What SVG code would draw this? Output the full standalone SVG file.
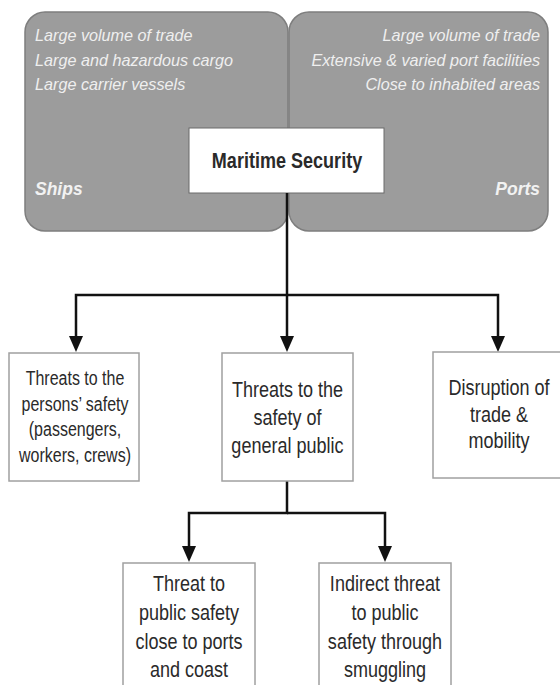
<svg xmlns="http://www.w3.org/2000/svg" width="560" height="685" viewBox="0 0 560 685">
  <style>
    .panel { fill: #9c9c9c; stroke: #7e7e7e; stroke-width: 1.5; }
    .it { font-family: "Liberation Sans", Arial, sans-serif; font-style: italic; font-size: 16.2px; fill: #efefef; }
    .lbl { font-family: "Liberation Sans", Arial, sans-serif; font-style: italic; font-weight: bold; font-size: 17.5px; fill: #f2f2f2; }
    .box { fill: #ffffff; stroke: #a0a0a0; stroke-width: 1.5; }
    .main { fill: #ffffff; stroke: #6a6a6a; stroke-width: 1; }
    .t { font-family: "Liberation Sans", Arial, sans-serif; fill: #2a2a2a; text-anchor: middle; }
    .conn { fill: none; stroke: #111111; stroke-width: 2.5; stroke-linejoin: miter; }
  </style>
  <defs>
    <marker id="arr" markerUnits="userSpaceOnUse" markerWidth="16" markerHeight="14" viewBox="0 0 16 14" refX="10" refY="7" orient="auto">
      <path d="M0,0 L16,7 L0,14 Z" fill="#111111"/>
    </marker>
  </defs>
  <rect width="560" height="685" fill="#ffffff"/>

  <g id="ships">
    <rect class="panel" x="25" y="12" width="263" height="219" rx="20" ry="20"/>
    <text class="it" x="35" y="41">Large volume of trade</text>
    <text class="it" x="35" y="65.5">Large and hazardous cargo</text>
    <text class="it" x="35" y="90">Large carrier vessels</text>
    <text class="lbl" x="35" y="195">Ships</text>
  </g>

  <g id="ports">
    <rect class="panel" x="289" y="12" width="259" height="219" rx="20" ry="20"/>
    <text class="it" x="540" y="41" text-anchor="end">Large volume of trade</text>
    <text class="it" x="540" y="65.5" text-anchor="end">Extensive &amp; varied port facilities</text>
    <text class="it" x="540" y="90" text-anchor="end">Close to inhabited areas</text>
    <text class="lbl" x="540" y="195" text-anchor="end">Ports</text>
  </g>

  <g id="maritime-security">
    <rect class="main" x="189" y="128" width="195" height="65"/>
    <g transform="translate(287,0) scale(0.82,1)">
      <text class="t" x="0" y="168" font-size="22" font-weight="bold" fill="#111">Maritime Security</text>
    </g>
  </g>

  <g id="connectors">
    <path class="conn" d="M287,193 V346" marker-end="url(#arr)"/>
    <path class="conn" d="M287,295 H76 V346" marker-end="url(#arr)"/>
    <path class="conn" d="M287,295 H498 V346" marker-end="url(#arr)"/>
    <path class="conn" d="M287,481 V513 H189 V556" marker-end="url(#arr)"/>
    <path class="conn" d="M287,513 H385 V556" marker-end="url(#arr)"/>
  </g>

  <g id="persons-safety">
    <rect class="box" x="9" y="353" width="130" height="128"/>
    <g transform="translate(75,0) scale(0.82,1)" class="t" font-size="19.5">
      <text x="0" y="385">Threats to the</text>
      <text x="0" y="411">persons’ safety</text>
      <text x="0" y="436.5">(passengers,</text>
      <text x="0" y="462">workers, crews)</text>
    </g>
  </g>

  <g id="general-public">
    <rect class="box" x="222" y="353" width="131" height="128"/>
    <g transform="translate(287.5,0) scale(0.82,1)" class="t" font-size="22">
      <text x="0" y="397">Threats to the</text>
      <text x="0" y="425">safety of</text>
      <text x="0" y="453">general public</text>
    </g>
  </g>

  <g id="trade-disruption">
    <rect class="box" x="433" y="352" width="132" height="126"/>
    <g transform="translate(499,0) scale(0.82,1)" class="t" font-size="22">
      <text x="0" y="395">Disruption of</text>
      <text x="0" y="422">trade &amp;</text>
      <text x="0" y="448">mobility</text>
    </g>
  </g>

  <g id="ports-coast">
    <rect class="box" x="123" y="563" width="132" height="135"/>
    <g transform="translate(189,0) scale(0.82,1)" class="t" font-size="22">
      <text x="0" y="591">Threat to</text>
      <text x="0" y="620">public safety</text>
      <text x="0" y="649">close to ports</text>
      <text x="0" y="677">and coast</text>
    </g>
  </g>

  <g id="smuggling">
    <rect class="box" x="319" y="563" width="132" height="135"/>
    <g transform="translate(385,0) scale(0.82,1)" class="t" font-size="22">
      <text x="0" y="591">Indirect threat</text>
      <text x="0" y="620">to public</text>
      <text x="0" y="649">safety through</text>
      <text x="0" y="677">smuggling</text>
    </g>
  </g>
</svg>
